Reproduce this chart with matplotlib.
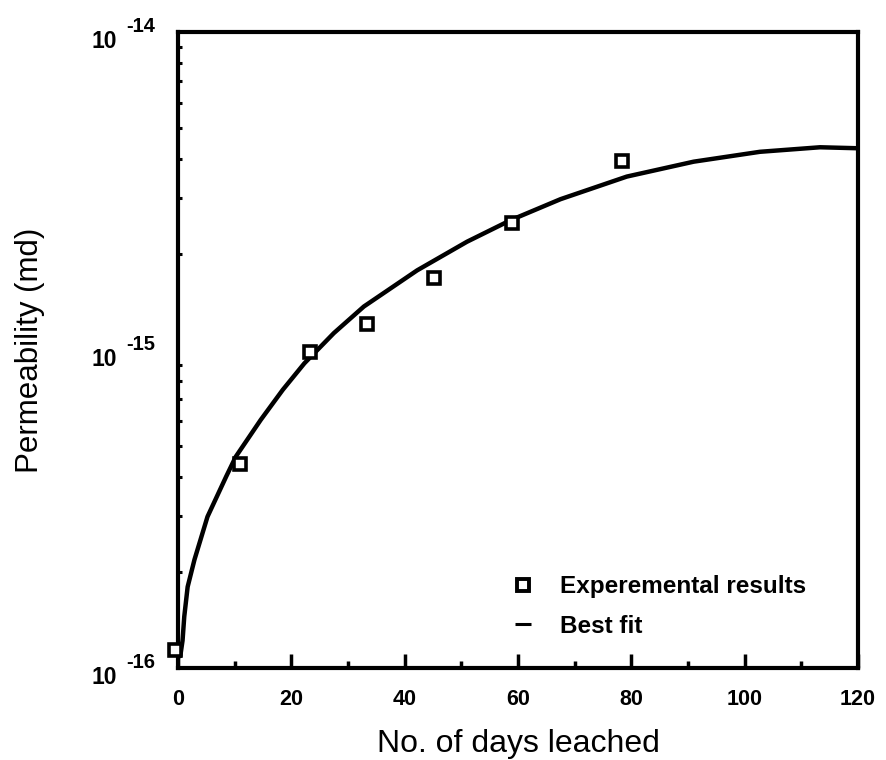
import matplotlib
matplotlib.use("Agg")
import matplotlib.pyplot as plt
from matplotlib.lines import Line2D
from matplotlib.ticker import FixedLocator, LogLocator, NullFormatter, MultipleLocator

plt.rcParams['font.family'] = ['Liberation Sans', 'DejaVu Sans']

# Experimental results
exp_days = [-0.5, 10.9, 23.3, 33.3, 45.1, 58.9, 78.4]
exp_perm = [1.14e-16, 4.38e-16, 9.86e-16, 1.21e-15, 1.68e-15, 2.51e-15, 3.93e-15]

# Best fit curve
fit_days = [0.4, 0.8, 1.1, 1.7, 2.9, 5.2, 8.5, 10.2, 14.6, 18.5, 22.3, 27.5, 32.8,
            42.2, 51.0, 58.7, 67.5, 79.2, 91.0, 102.7, 113.3, 119.8]
fit_perm = [1.09e-16, 1.22e-16, 1.45e-16, 1.80e-16, 2.19e-16, 2.99e-16, 4.00e-16,
            4.62e-16, 6.03e-16, 7.5e-16, 9.08e-16, 1.13e-15, 1.37e-15, 1.78e-15,
            2.19e-15, 2.56e-15, 2.98e-15, 3.51e-15, 3.91e-15, 4.20e-15, 4.34e-15,
            4.31e-15]

x_ticks = [0, 20, 40, 60, 80, 100, 120]
y_ticks = [1e-16, 1e-15, 1e-14]
y_exponents = ['-16', '-15', '-14']

fig = plt.figure(figsize=(8.87, 7.6), dpi=100)
ax = fig.add_axes([0.2007, 0.1211, 0.7666, 0.8368])

ax.plot(fit_days, fit_perm, color='black', lw=3.2, solid_capstyle='round',
        solid_joinstyle='round', zorder=2)
ax.plot(exp_days, exp_perm, linestyle='none', marker='s', markersize=9,
        markerfacecolor='white', markeredgecolor='black', markeredgewidth=2.6,
        zorder=3, clip_on=False)

ax.set_yscale('log')
ax.set_xlim(0, 120)
ax.set_ylim(1e-16, 1e-14)

ax.xaxis.set_major_locator(FixedLocator(x_ticks))
ax.xaxis.set_minor_locator(MultipleLocator(10))
ax.set_xticklabels([str(v) for v in x_ticks], fontsize=15.5, fontweight='bold')
ax.yaxis.set_major_locator(FixedLocator(y_ticks))
ax.yaxis.set_minor_locator(LogLocator(base=10, subs=range(2, 10)))
ax.yaxis.set_minor_formatter(NullFormatter())
ax.set_yticklabels(['' for _ in y_ticks])

# y tick labels: "10" with raised exponent
for v, e in zip(y_ticks, y_exponents):
    ax.annotate('10', xy=(0, v), xycoords=('axes fraction', 'data'),
                xytext=(-61, -10), textcoords='offset pixels', ha='right', va='center',
                fontsize=16.5, fontweight='bold', annotation_clip=False)
    ax.annotate(e, xy=(0, v), xycoords=('axes fraction', 'data'),
                xytext=(-52, -4), textcoords='offset pixels', ha='left', va='bottom',
                fontsize=14.5, fontweight='bold', annotation_clip=False)

ax.tick_params(axis='both', which='both', direction='in', top=False, right=False,
               width=2.5, color='black')
ax.tick_params(axis='x', which='major', length=10, pad=15)
ax.tick_params(axis='x', which='minor', length=5)
ax.tick_params(axis='y', which='major', length=0)
ax.tick_params(axis='y', which='minor', length=3, width=2.2)

for s in ax.spines.values():
    s.set_linewidth(3)

ax.set_xlabel('No. of days leached', fontsize=23, labelpad=14)
ax.set_ylabel('Permeability (md)', fontsize=22.5, labelpad=92)

handles = [
    Line2D([], [], linestyle='none', marker='s', markersize=8, markerfacecolor='white',
           markeredgecolor='black', markeredgewidth=2.8),
    Line2D([], [], linestyle='none', marker='_', markersize=11, markeredgewidth=2.2,
           markeredgecolor='black'),
]
leg = ax.legend(handles, ['Experemental results', 'Best fit'], loc='upper left',
                bbox_to_anchor=(0.49, 0.146), frameon=False, borderpad=0,
                borderaxespad=0, handlelength=1.0, handletextpad=1.02,
                labelspacing=0.68,
                prop={'family': 'Liberation Sans', 'size': 17.5, 'weight': 'bold'})

fig.savefig('out.png', dpi=100)
